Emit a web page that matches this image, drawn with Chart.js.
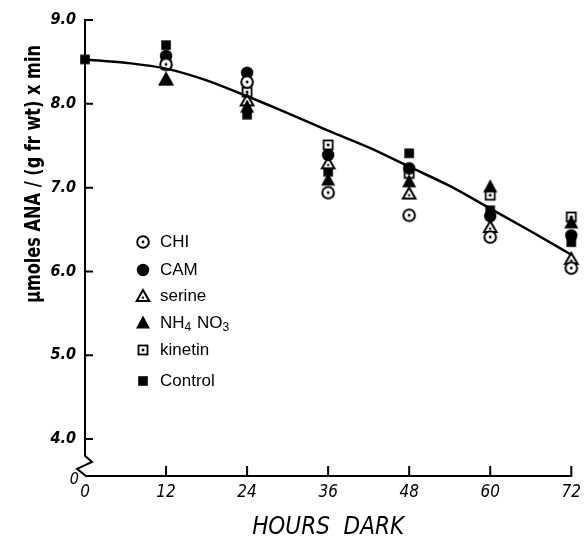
<!DOCTYPE html>
<html>
<head>
<meta charset="utf-8">
<script src="https://cdn.jsdelivr.net/npm/chart.js@4.4.0/dist/chart.umd.min.js"></script>
<style>
  html, body { margin: 0; padding: 0; background: #fff; }
  #wrap { width: 587px; height: 537px; position: relative; }
</style>
</head>
<body>
<div id="wrap"><canvas id="chart"></canvas></div>
<script>
// hours in darkness
const hours = [0, 12, 24, 36, 48, 60, 72];
const sampleHours = [12, 24, 36, 48, 60, 72];

// ANA activity, umoles/(g fr wt) x min
const chi     = [8.47, 8.26, 6.94, 6.67, 6.41, 6.04];
const cam     = [8.57, 8.37, 7.39, 7.23, 6.66, 6.43];
const serine  = [8.29, 8.04, 7.29, 6.93, 6.53, 6.15];
const nh4no3  = [8.29, 7.96, 7.09, 7.07, 7.01, 6.58];
const kinetin = [8.47, 8.14, 7.51, 7.17, 6.91, 6.65];
const control = [8.53, 8.70, 7.87, 7.19, 7.41, 6.73, 6.35];

// fitted curve, read every 6 h
const curveHours  = [0, 6, 12, 18, 24, 30, 36, 42, 48, 54, 60, 66, 72];
const curveValues = [8.53, 8.49, 8.42, 8.28, 8.09, 7.89, 7.68, 7.48, 7.25, 7.02, 6.75, 6.48, 6.20];

const yTicks = [4, 5, 6, 7, 8, 9];
const yMin = 3.56;
const yBreak = 3.8;

const NARROW = "'Liberation Sans Narrow', 'DejaVu Sans Condensed', 'Roboto Condensed', sans-serif";
const PLAIN = "'Liberation Sans', Arial, sans-serif";

function toPoints(xs, ys) {
    return xs.map((x, i) => ({ x: x, y: ys[i] }));
}

// small canvases used as point styles (and reused in the legend)
function marker(kind) {
    const c = document.createElement('canvas');
    c.width = 18;
    c.height = 18;
    const g = c.getContext('2d');
    g.translate(9, 9);
    g.fillStyle = '#000';
    g.strokeStyle = '#000';
    g.lineWidth = 2;
    if (kind === 'dotCircle') {
        g.beginPath(); g.arc(0, 0, 5.8, 0, Math.PI * 2);
        g.fillStyle = '#fff'; g.fill(); g.stroke();
        g.fillStyle = '#000'; g.beginPath(); g.arc(0, 0, 1.4, 0, Math.PI * 2); g.fill();
    } else if (kind === 'circle') {
        g.beginPath(); g.arc(0, 0, 6.2, 0, Math.PI * 2); g.fill();
    } else if (kind === 'dotTriangle') {
        g.beginPath(); g.moveTo(0, -6); g.lineTo(6.3, 5); g.lineTo(-6.3, 5); g.closePath();
        g.fillStyle = '#fff'; g.fill(); g.stroke();
        g.fillStyle = '#000'; g.beginPath(); g.arc(0, 1.6, 1.2, 0, Math.PI * 2); g.fill();
    } else if (kind === 'triangle') {
        g.beginPath(); g.moveTo(0, -7.5); g.lineTo(7, 5.5); g.lineTo(-7, 5.5); g.closePath(); g.fill();
    } else if (kind === 'dotSquare') {
        g.lineWidth = 1.8;
        g.fillStyle = '#fff'; g.fillRect(-4.5, -4.5, 9, 9); g.strokeRect(-4.5, -4.5, 9, 9);
        g.fillStyle = '#000'; g.fillRect(-1.3, -1.3, 2.6, 2.6);
    } else if (kind === 'square') {
        g.fillRect(-4.8, -4.8, 9.6, 9.6);
    }
    return c;
}

function scatterSet(label, xs, ys, kind) {
    return {
        type: 'scatter',
        label: label,
        data: toPoints(xs, ys),
        pointStyle: marker(kind),
        pointRadius: 7,
        showLine: false,
        clip: false
    };
}

// text where digits after letters are set as subscripts (NH4 NO3)
function drawRichLabel(ctx, text, x, y, size) {
    let cx = x;
    for (let i = 0; i < text.length; i++) {
        const ch = text[i];
        const sub = /[0-9]/.test(ch) && i > 0 && /[A-Za-z]/.test(text[i - 1]);
        ctx.font = (sub ? Math.round(size * 0.72) : size) + 'px ' + PLAIN;
        ctx.fillText(ch, cx, sub ? y + size * 0.28 : y);
        cx += ctx.measureText(ch).width + (sub ? 1 : 0);
    }
}

const legendOrder = ['CHI', 'CAM', 'serine', 'NH4 NO3', 'kinetin', 'Control'];

const figureDecor = {
    id: 'figureDecor',
    afterDraw(chart) {
        const { ctx, chartArea, scales } = chart;
        const xs = scales.x, ys = scales.y;
        const left = chartArea.left, right = chartArea.right, bottom = chartArea.bottom;
        ctx.save();
        ctx.strokeStyle = '#000';
        ctx.fillStyle = '#000';
        ctx.lineWidth = 2;

        // y axis with a break above zero
        const top = ys.getPixelForValue(yTicks[yTicks.length - 1]);
        const br = ys.getPixelForValue(yBreak);
        ctx.beginPath();
        ctx.moveTo(left, top - 1);
        ctx.lineTo(left, br);
        ctx.lineTo(left + 7, br + 6);
        ctx.lineTo(left - 8, br + 13);
        ctx.lineTo(left + 1, bottom);
        ctx.stroke();

        // x axis
        ctx.beginPath();
        ctx.moveTo(left, bottom);
        ctx.lineTo(right + 1, bottom);
        ctx.stroke();

        // inward ticks
        ctx.beginPath();
        yTicks.forEach(v => {
            const p = ys.getPixelForValue(v);
            ctx.moveTo(left, p);
            ctx.lineTo(left + 8, p);
        });
        hours.slice(1).forEach(h => {
            const p = xs.getPixelForValue(h);
            ctx.moveTo(p, bottom);
            ctx.lineTo(p, bottom - 10);
        });
        ctx.stroke();

        // zero of the broken y axis
        ctx.font = 'italic 16px ' + NARROW;
        ctx.textAlign = 'right';
        ctx.textBaseline = 'middle';
        ctx.fillText('0', left - 6, bottom + 4);

        // y axis title
        ctx.save();
        ctx.translate(34, 174);
        ctx.rotate(-Math.PI / 2);
        ctx.font = 'bold 22px ' + NARROW;
        ctx.textAlign = 'center';
        ctx.textBaseline = 'middle';
        ctx.fillText('\u03bcmoles ANA / (g fr wt) x min', 0, 0, 258);
        ctx.restore();

        // legend
        const legendX = left + 58;
        const legendY = [242, 270, 296, 323, 350, 381];
        ctx.textAlign = 'left';
        ctx.textBaseline = 'middle';
        legendOrder.forEach((name, i) => {
            const d = chart.data.datasets.find(s => s.label === name);
            const m = d.pointStyle;
            ctx.drawImage(m, legendX - m.width / 2, legendY[i] - m.height / 2);
            drawRichLabel(ctx, d.label, legendX + 17, legendY[i], 17);
        });
        ctx.restore();
    }
};

// earlier datasets are painted on top
new Chart(document.getElementById('chart'), {
    type: 'scatter',
    data: {
        datasets: [
            {
                type: 'line',
                label: 'fit',
                data: toPoints(curveHours, curveValues),
                borderColor: '#000',
                borderWidth: 2.5,
                pointRadius: 0,
                cubicInterpolationMode: 'monotone',
                fill: false,
                clip: false
            },
            scatterSet('CHI', sampleHours, chi, 'dotCircle'),
            scatterSet('CAM', sampleHours, cam, 'circle'),
            scatterSet('NH4 NO3', sampleHours, nh4no3, 'triangle'),
            scatterSet('serine', sampleHours, serine, 'dotTriangle'),
            scatterSet('kinetin', sampleHours, kinetin, 'dotSquare'),
            scatterSet('Control', hours, control, 'square')
        ]
    },
    options: {
        responsive: true,
        maintainAspectRatio: false,
        animation: false,
        layout: { padding: { top: 20, right: 9, left: 0, bottom: 0 } },
        plugins: {
            legend: { display: false },
            tooltip: { enabled: false }
        },
        scales: {
            x: {
                type: 'linear',
                min: 0,
                max: 72,
                afterBuildTicks: scale => { scale.ticks = hours.map(h => ({ value: h })); },
                afterFit: scale => { scale.height = 61; },
                grid: { display: false, drawTicks: false },
                border: { display: false },
                ticks: {
                    color: '#000',
                    padding: 6,
                    maxRotation: 0,
                    font: { family: NARROW, size: 17, style: 'italic' },
                    callback: v => String(v)
                },
                title: {
                    display: true,
                    text: 'HOURS  DARK',
                    color: '#000',
                    padding: 0,
                    font: { family: NARROW, size: 24, style: 'italic', lineHeight: 0.8 }
                }
            },
            y: {
                type: 'linear',
                min: yMin,
                max: 9,
                afterBuildTicks: scale => { scale.ticks = yTicks.map(v => ({ value: v })); },
                afterFit: scale => { scale.width = 85; },
                grid: { display: false, drawTicks: false },
                border: { display: false },
                ticks: {
                    color: '#000',
                    padding: 9,
                    font: { family: NARROW, size: 16, style: 'italic', weight: 'bold' },
                    callback: v => v.toFixed(1)
                }
            }
        }
    },
    plugins: [figureDecor]
});
</script>
</body>
</html>
